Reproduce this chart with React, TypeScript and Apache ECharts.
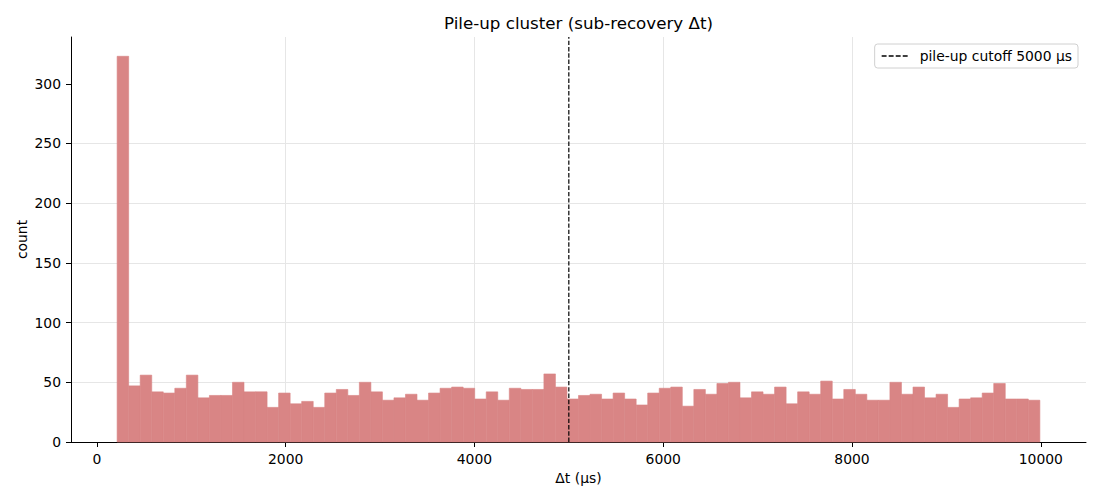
import React, { useEffect, useRef } from "react";
import * as echarts from "echarts";

// Histogram bins: 80 equal-width bins between the first and last edge (μs)
const binStart = 215;
const binEnd = 9990;
const counts = [
  323, 47, 56, 42, 41, 45, 56, 37, 39, 39,
  50, 42, 42, 29, 41, 32, 34, 29, 41, 44,
  39, 50, 42, 35, 37, 40, 35, 41, 45, 46,
  45, 36, 42, 35, 45, 44, 44, 57, 46, 36,
  39, 40, 36, 41, 36, 31, 41, 45, 46, 30,
  44, 40, 49, 50, 37, 42, 40, 46, 32, 42,
  40, 51, 36, 44, 40, 35, 35, 50, 40, 46,
  37, 40, 29, 36, 37, 41, 49, 36, 36, 35,
];
const cutoff = 5000;
const xTicks = [0, 2000, 4000, 6000, 8000, 10000];
const yTicks = [0, 50, 100, 150, 200, 250, 300];
const titleText = "Pile-up cluster (sub-recovery Δt)";
const xName = "Δt (μs)";
const yName = "count";
const legendName = "pile-up cutoff 5000 μs";

const FONT = "DejaVu Sans";
const BAR_COLOR = "#d98585";
const DASH_ICON =
  "path://M0,0h4.4v1h-4.4z M6.3,0h4.4v1h-4.4z M12.6,0h4.4v1h-4.4z M18.9,0h4.4v1h-4.4z";

export default function App() {
  const ref = useRef<HTMLDivElement>(null);
  useEffect(() => {
    if (!ref.current) return;
    const chart = echarts.init(ref.current, null, { renderer: "svg" });
    const bw = (binEnd - binStart) / counts.length;
    const bins = counts.map((c, i) => [binStart + i * bw, binStart + (i + 1) * bw, c]);
    const span = binEnd - binStart;
    const xMin = binStart - span * 0.05;
    const xMax = binEnd + span * 0.05;
    const yMax = Math.max(...counts) * 1.05;

    chart.setOption({
      animation: false,
      backgroundColor: "#ffffff",
      title: {
        text: titleText,
        left: 444,
        top: 14,
        padding: 0,
        textStyle: { fontFamily: FONT, fontSize: 16.7, fontWeight: "normal", color: "#000" },
      },
      legend: {
        data: [{ name: legendName, icon: DASH_ICON }],
        right: 22,
        top: 44,
        orient: "vertical",
        padding: [5, 6, 5, 7],
        itemWidth: 26,
        itemHeight: 1.5,
        symbolKeepAspect: false,
        itemStyle: { color: "#000", borderWidth: 0 },
        backgroundColor: "rgba(255,255,255,0.8)",
        borderColor: "#d0d0d0",
        borderWidth: 1,
        borderRadius: 3,
        textStyle: { fontFamily: FONT, fontSize: 13.9, color: "#000", padding: [0, 0, 0, 7] },
      },
      grid: { left: 71, right: 14, top: 37, bottom: 58, containLabel: false },
      xAxis: {
        type: "value",
        min: xMin,
        max: xMax,
        splitNumber: 5,
        name: xName,
        nameLocation: "middle",
        nameGap: 29,
        nameMoveOverlap: false,
        nameTextStyle: { fontFamily: FONT, fontSize: 13.9, color: "#000" },
        axisLine: { show: true, onZero: false, lineStyle: { color: "#000", width: 1 } },
        axisTick: { show: true, length: 5, lineStyle: { color: "#000" }, customValues: xTicks },
        axisLabel: {
          fontFamily: FONT, fontSize: 13.9, color: "#000", margin: 10,
          customValues: xTicks,
          formatter: (v: number) => String(v),
        },
        splitLine: { show: true, showMinLine: false, showMaxLine: false, lineStyle: { color: "#e6e6e6", width: 1 } },
      },
      yAxis: {
        type: "value",
        min: 0,
        max: yMax,
        interval: 50,
        name: yName,
        nameLocation: "middle",
        nameGap: 42,
        nameMoveOverlap: false,
        nameTextStyle: { fontFamily: FONT, fontSize: 13.9, color: "#000" },
        axisLine: { show: true, onZero: false, lineStyle: { color: "#000", width: 1 } },
        axisTick: { show: true, length: 5, lineStyle: { color: "#000" }, customValues: yTicks },
        axisLabel: {
          fontFamily: FONT, fontSize: 13.9, color: "#000", margin: 10,
          customValues: yTicks,
          formatter: (v: number) => String(v),
        },
        splitLine: { show: true, showMaxLine: false, lineStyle: { color: "#e6e6e6", width: 1 } },
      },
      series: [
        {
          type: "custom",
          data: bins,
          encode: { x: [0, 1], y: 2 },
          renderItem: (params: any, api: any) => {
            const p0 = api.coord([api.value(0), api.value(2)]);
            const p1 = api.coord([api.value(1), 0]);
            return {
              type: "rect",
              shape: { x: p0[0], y: p0[1], width: p1[0] - p0[0], height: p1[1] - p0[1] },
              style: { fill: BAR_COLOR, stroke: BAR_COLOR, lineWidth: 0.6 },
            };
          },
          z: 2,
        },
        {
          type: "line",
          name: legendName,
          data: [[cutoff, 0], [cutoff, yMax]],
          symbol: "none",
          lineStyle: { color: "#000", width: 1.2, type: [4.4, 1.9] },
          itemStyle: { color: "#000" },
          z: 3,
        },
      ],
    });
    return () => chart.dispose();
  }, []);
  return (
    <div
      ref={ref}
      style={{ position: "fixed", left: 0, top: 0, width: 1100, height: 500, background: "#fff" }}
    />
  );
}
